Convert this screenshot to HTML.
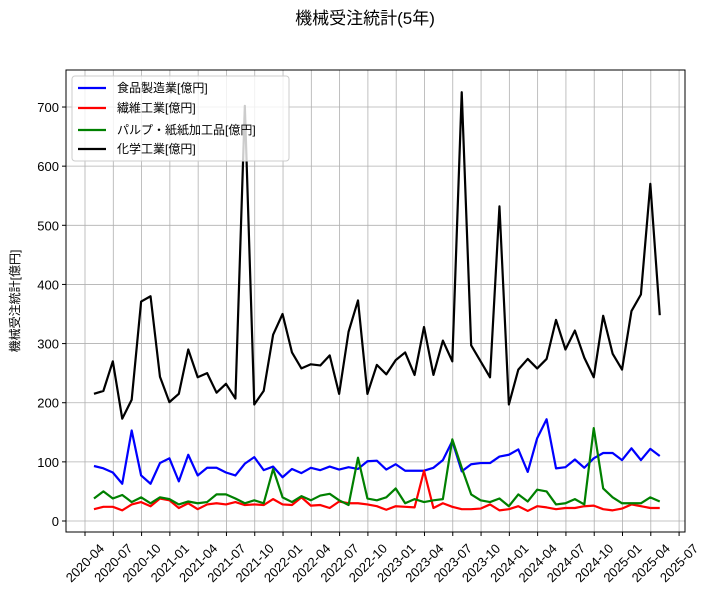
<!DOCTYPE html>
<html><head><meta charset="utf-8"><style>
body{margin:0;background:#fff;}
svg{display:block;font-family:"Liberation Sans","Noto Sans CJK JP",sans-serif;}
</style></head><body>
<svg id="chart" width="710" height="602">
<text x="365" y="24" text-anchor="middle" font-size="17">機械受注統計(5年)</text>
<text transform="translate(19,301) rotate(-90)" text-anchor="middle" font-size="12">機械受注統計[億円]</text>
<g id="grid"></g><g id="series"></g><g id="axes"></g><g id="legend"></g>
</svg>
<script>
const tickLabels = ["2020-04","2020-07","2020-10","2021-01","2021-04","2021-07","2021-10","2022-01","2022-04","2022-07","2022-10","2023-01","2023-04","2023-07","2023-10","2024-01","2024-04","2024-07","2024-10","2025-01","2025-04","2025-07"];
const yTicks = [0,100,200,300,400,500,600,700];
const seriesNames = ["食品製造業[億円]","繊維工業[億円]","パルプ・紙紙加工品[億円]","化学工業[億円]"];
const food = [93,89,82,63,153,77,63,98,106, 67,112,77,90,90,82,77,97,108,86,92,74, 88,81,90,86,92,87,91,88,101,102,87,96, 85,85,85,90,103,135,84,96,98,98,109,112, 121,83,140,172,89,91,104,90,106,115,115,103, 123,103,122,110];
const textile = [20,24,24,18,28,32,25,38,35, 22,30,20,28,30,28,32,27,28,27,37,28, 27,40,26,27,22,33,30,30,28,25,19,25, 24,23,85,22,30,24,20,20,21,28,18,20, 25,17,25,23,20,22,22,25,26,20,18,21, 28,25,22,22];
const pulp = [38,50,38,44,32,40,30,40,37, 28,33,30,32,45,45,38,30,35,30,88,40, 32,42,35,43,46,35,27,107,38,35,40,55, 30,37,32,35,37,138,90,45,35,32,38,25, 45,33,53,50,28,30,37,28,157,55,40,30, 30,30,40,33];
const chem = [215,220,270,173,205,371,380,244,201, 215,290,243,250,217,232,207,702,197,220,315,350, 285,258,265,263,280,215,320,373,215,264,248,272, 285,247,328,247,305,270,725,297,270,243,532,197, 256,274,258,274,340,290,322,276,243,347,283,256, 355,383,570,348];
const colors = ["#0000ff","#ff0000","#008000","#000000"];
const allSeries = [food,textile,pulp,chem];

const L=66,R=685,T=70,B=532;
const xs = m => 85 + m*9.43;
const ys = v => 521 - v*0.5914;
const NS="http://www.w3.org/2000/svg";
function mk(tag,attrs,parent){const e=document.createElementNS(NS,tag);for(const k in attrs)e.setAttribute(k,attrs[k]);parent.appendChild(e);return e;}
const grid=document.getElementById('grid'),axes=document.getElementById('axes'),ser=document.getElementById('series'),leg=document.getElementById('legend');
tickLabels.forEach((t,i)=>{const x=xs(i*3);
 const g=mk('line',{x1:x,x2:x,y1:T,y2:B,stroke:'#b0b0b0','stroke-width':0.8},grid);
 
 
 mk('line',{x1:x,x2:x,y1:B,y2:B+4,stroke:'#000'},axes);
 const cy=B+31;
 const tx=mk('text',{x:x,y:cy+4.5,'font-size':13,'text-anchor':'middle',transform:`rotate(-45 ${x} ${cy})`},axes);
 tx.textContent=t;
 
 
});
yTicks.forEach(v=>{const y=ys(v);
 const g=mk('line',{x1:L,x2:R,y1:y,y2:y,stroke:'#b0b0b0','stroke-width':0.8},grid);
 
 
 mk('line',{x1:L-4,x2:L,y1:y,y2:y,stroke:'#000'},axes);
 const tx=mk('text',{x:L-7,y:y+5,'font-size':13,'text-anchor':'end'},axes);
 tx.textContent=v;
 
 
});
const frame=mk('rect',{x:L,y:T,width:R-L,height:B-T,fill:'none',stroke:'#000','stroke-width':1},axes);


allSeries.forEach((s,k)=>{
 const p=mk('polyline',{points:s.map((v,i)=>xs(i+0.95)+','+ys(v)).join(' '),fill:'none',stroke:colors[k],'stroke-width':2.2,'stroke-linejoin':'round'},ser);
 
 
});
const lb=mk('rect',{x:72,y:76,width:217,height:85,fill:'#fff','fill-opacity':0.8,stroke:'#ccc',rx:3},leg);


const ly=[88,108,130,149];
seriesNames.forEach((n,k)=>{
 mk('line',{x1:78,x2:106,y1:ly[k],y2:ly[k],stroke:colors[k],'stroke-width':2.2},leg);
 const t=mk('text',{x:117,y:ly[k]+4,'font-size':12},leg);
 t.textContent=n;
 
 
});
</script>
</body></html>
